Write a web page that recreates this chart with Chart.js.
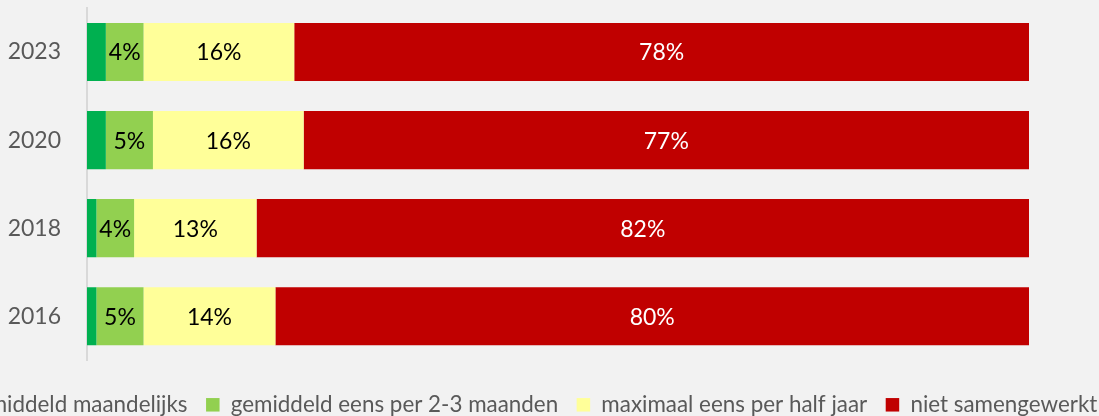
<!DOCTYPE html>
<html>
<head>
<meta charset="utf-8">
<script src="https://cdn.jsdelivr.net/npm/chart.js@4/dist/chart.umd.min.js"></script>
<style>
  html, body { margin: 0; padding: 0; background: #f2f2f2; width: 1099px; height: 416px; overflow: hidden; }
  #wrap { position: absolute; left: -120px; top: 0; width: 1300px; height: 426px; }
</style>
</head>
<body>
<div id="wrap"><canvas id="c" width="1300" height="426"></canvas></div>
<script>
const categories = ['2023', '2020', '2018', '2016'];
const seriesNames = ['gemiddeld maandelijks', 'gemiddeld eens per 2-3 maanden', 'maximaal eens per half jaar', 'niet samengewerkt'];
const maandelijks = [2, 2, 1, 1];
const tweeDrieMaanden = [4, 5, 4, 5];
const halfJaar = [16, 16, 13, 14];
const nietSamengewerkt = [78, 77, 82, 80];
const seriesColors = ['#00B050', '#92D050', '#FFFF99', '#C00000'];
const labelColors = ['#000000', '#000000', '#000000', '#FFFFFF'];

const FONT = 'Lato';

const dataLabels = {
  id: 'dataLabels',
  afterDatasetsDraw(chart) {
    const ctx = chart.ctx;
    ctx.save();
    ctx.font = '23px ' + FONT;
    ctx.textAlign = 'center';
    ctx.textBaseline = 'middle';
    chart.data.datasets.forEach((ds, di) => {
      const meta = chart.getDatasetMeta(di);
      meta.data.forEach((el, i) => {
        const v = ds.data[i];
        if (v < 3) return;
        const p = el.getProps(['x', 'y', 'base'], true);
        ctx.fillStyle = labelColors[di];
        ctx.fillText(Math.round(v) + '%', (p.x + p.base) / 2, p.y + 1);
      });
    });
    ctx.restore();
  }
};

const allSeries = [maandelijks, tweeDrieMaanden, halfJaar, nietSamengewerkt];

new Chart(document.getElementById('c'), {
  type: 'bar',
  data: {
    labels: categories,
    datasets: allSeries.map((d, i) => ({
      label: seriesNames[i],
      data: d,
      backgroundColor: seriesColors[i],
      borderWidth: 0,
      categoryPercentage: 1,
      barPercentage: 0.66
    }))
  },
  options: {
    indexAxis: 'y',
    responsive: false,
    devicePixelRatio: 1,
    animation: false,
    layout: { padding: { left: 10, right: 32, top: 8, bottom: 0 } },
    plugins: {
      tooltip: { enabled: false },
      legend: {
        position: 'bottom',
        labels: {
          boxWidth: 13.5,
          boxHeight: 13.5,
          padding: 18.5,
          color: '#595959',
          font: { family: FONT, size: 22.4 }
        }
      }
    },
    scales: {
      x: {
        stacked: true,
        min: 0,
        max: 100,
        display: true,
        ticks: { display: false },
        grid: { display: false, drawTicks: false },
        border: { display: false },
        afterFit(s) { s.height = 14.85; s.paddingLeft = 0; s.paddingRight = 0; }
      },
      y: {
        stacked: true,
        position: 'left',
        ticks: { color: '#595959', font: { family: FONT, size: 23 }, padding: 26 },
        grid: { display: false, drawTicks: false },
        border: { display: true, color: '#d9d9d9', width: 2 },
        afterFit(s) { s.width = 197; s.paddingTop = 0; s.paddingBottom = 0; }
      },
      yR: {
        axis: 'y',
        type: 'category',
        position: 'right',
        display: true,
        ticks: { display: false },
        grid: { display: false, drawTicks: false },
        border: { display: false },
        afterFit(s) { s.width = 119; s.paddingTop = 0; s.paddingBottom = 0; }
      }
    }
  },
  plugins: [dataLabels]
});
</script>
</body>
</html>
